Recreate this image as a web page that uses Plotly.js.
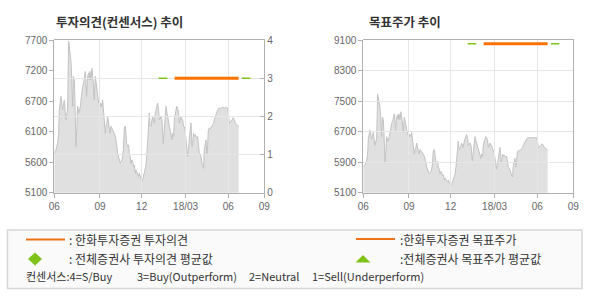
<!DOCTYPE html>
<html>
<head>
<meta charset="utf-8">
<script src="https://cdn.plot.ly/plotly-3.0.1.min.js"></script>
<style>
  html, body { margin: 0; padding: 0; background: #ffffff; }
  #chart { width: 590px; height: 300px; }
</style>
</head>
<body>
<div id="chart"></div>
<script>
// ---------------- data ----------------
// trading-session index (Jun 2017 .. Sep 2018) and close price
var session = [0,5,10,13,15,20,23,25,28,30,33,35,38,40,42,43,45,47,50,52,53,55,57,60,62,63,65,68,70,73,75,78,80,83,85,88,90,93,95,97,100,103,105,107,110,113,115,117,120,123,125,127,130,133,135,138,140,143,145,148,150,153,155,158,160,163,165,167,170,173,175,178,180,183,185,188,190,193,195,198,200,203,205,207,210,213,215,217,220,223,225,228,230,233,235,238,240,243,245,247,250,253,255,257,260,263,265,267,269,271,273,275,278,280,283,285,287,290,293,295,298,300,303,305,308,310,313,315,318,320,323,325,327,330,333,335,338,340,343,345,348,350,353,355,358,360,363,365,367,370,373,375,378,380,383,385,388,390,392,395,398,400,403,405,407,410,412,413,415,418,421,423,425,428,430,433,435,438,440,443,445,448,450,452,455,458,460,462,465,470,473,475,478,480,483,485,488,490,493,495,500,505,510,515,520,523,525,528,530,533,535,538,540,543,545,548,550,553];
var price = [5770,5830,5940,6110,6510,6740,6570,6510,6625,6680,6455,6340,6455,6510,7250,7680,7590,7480,7340,7080,6910,6570,7080,7020,6680,6400,5885,6230,6570,6455,6480,6570,6680,6740,6910,6970,7050,7165,6970,6740,7080,7140,7020,7165,7020,7220,7080,6970,6680,7080,6995,6910,6740,6625,6680,6570,6625,6570,6680,6510,6400,6110,6230,6285,6400,6285,6170,6110,6230,6200,6170,6140,6110,6055,6000,5885,5770,5715,5660,5600,5630,5660,5715,5830,6200,6230,6110,5940,5885,5915,5770,5715,5600,5660,5630,5545,5570,5430,5485,5460,5430,5375,5430,5400,5345,5290,5315,5375,5430,5460,5545,5570,5770,6000,6230,6455,6255,6230,6340,6400,6340,6285,6455,6510,6570,6625,6510,6340,6370,6400,6340,6110,5940,6170,6455,6570,6455,6400,6340,6285,6170,6110,6000,6110,6055,6340,6455,6510,6570,6540,6455,6285,6340,6400,6340,6340,6230,6200,6200,6000,5830,5715,5885,6000,6110,6285,6055,5885,5940,6110,6055,6085,6055,6030,6055,5885,5770,5745,5715,5600,5570,5515,5830,5940,6000,5770,5885,6170,6200,6200,6230,6255,6285,6340,6400,6455,6510,6510,6540,6540,6540,6555,6540,6555,6540,6425,6285,6310,6310,6340,6370,6370,6310,6285,6270,6255,6240,6230];

// Hanwha Investment & Securities opinion (3 = Buy) and target price
var houseSession = [361, 553];
var houseOpinion = [3, 3];
var houseTarget = [9000, 9000];
// all-broker consensus averages (short segments)
var consSession = [313, 339, null, 563, 588];
var consOpinion = [3, 3, null, 3, 3];
var consTarget = [9000, 9000, null, 9000, 9000];

// axis ticks
var monthTickVals = [0, 137, 262, 394, 522, 630];
var monthTickText = ['06', '09', '12', '18/03', '06', '09'];
var leftPriceText = ['5100', '5600', '6100', '6700', '7200', '7700'];
var leftPriceRange = [5100, 7700];
var opinionTicks = [0, 1, 2, 3, 4];
var targetTicks = [5100, 5900, 6700, 7500, 8300, 9100];

// ---------------- layout helpers ----------------
var W = 590, H = 300;
function px(x) { return x / W; }
function py(y) { return 1 - y / H; }

var domL = [px(54.3), px(264.3)];
var domR = [px(363.3), px(573.3)];
var domV = [py(192.7), py(40)];

var ORANGE = '#ff7200';
var GREEN = '#7fc31a';
var AXIS = '#b0b0b0';
var GRID = '#e6e6e6';
var TICKFONT = { family: 'Liberation Sans, Arial, sans-serif', size: 10, color: '#666666' };
var KFONT = 'Noto Sans CJK KR, sans-serif';

var leftTickVals = leftPriceText.map(function (t, i) {
  return leftPriceRange[0] + i * (leftPriceRange[1] - leftPriceRange[0]) / (leftPriceText.length - 1);
});

var traces = [
  { x: session, y: price, xaxis: 'x', yaxis: 'y', type: 'scatter', mode: 'lines',
    fill: 'tozeroy', fillcolor: '#e0e0e0', line: { color: '#c2c2c2', width: 1 }, hoverinfo: 'skip' },
  { x: houseSession, y: houseOpinion, xaxis: 'x2', yaxis: 'y2', type: 'scatter', mode: 'lines',
    line: { color: ORANGE, width: 3 } },
  { x: consSession, y: consOpinion, xaxis: 'x2', yaxis: 'y2', type: 'scatter', mode: 'lines',
    line: { color: GREEN, width: 1.5 }, connectgaps: false },
  { x: session, y: price, xaxis: 'x3', yaxis: 'y3', type: 'scatter', mode: 'lines',
    fill: 'tozeroy', fillcolor: '#e0e0e0', line: { color: '#c2c2c2', width: 1 }, hoverinfo: 'skip' },
  { x: houseSession, y: houseTarget, xaxis: 'x4', yaxis: 'y4', type: 'scatter', mode: 'lines',
    line: { color: ORANGE, width: 3 } },
  { x: consSession, y: consTarget, xaxis: 'x4', yaxis: 'y4', type: 'scatter', mode: 'lines',
    line: { color: GREEN, width: 1.5 }, connectgaps: false }
];

function baseX(dom, anchor) {
  return { domain: dom, anchor: anchor, range: [0, 630], tickmode: 'array',
    tickvals: monthTickVals, ticktext: monthTickText, zeroline: false, fixedrange: true };
}

var xa = baseX(domL, 'y');
Object.assign(xa, { showgrid: false, ticks: 'outside', ticklen: 4, tickcolor: AXIS,
  showline: true, linecolor: AXIS, tickfont: TICKFONT });
var xa2 = baseX(domL, 'y2');
Object.assign(xa2, { showgrid: true, gridcolor: GRID, ticks: '', showticklabels: false,
  showline: true, mirror: true, linecolor: AXIS });
var xa3 = baseX(domR, 'y3');
Object.assign(xa3, { showgrid: false, ticks: 'outside', ticklen: 4, tickcolor: AXIS,
  showline: true, linecolor: AXIS, tickfont: TICKFONT });
var xa4 = baseX(domR, 'y4');
Object.assign(xa4, { showgrid: true, gridcolor: GRID, ticks: '', showticklabels: false,
  showline: true, mirror: true, linecolor: AXIS });

var layout = {
  width: W, height: H,
  margin: { l: 0, r: 0, t: 0, b: 0 },
  paper_bgcolor: '#ffffff',
  plot_bgcolor: 'rgba(0,0,0,0)',
  showlegend: false,
  xaxis: xa, xaxis2: xa2, xaxis3: xa3, xaxis4: xa4,
  yaxis: { domain: domV, anchor: 'x', range: leftPriceRange, tickmode: 'array',
    tickvals: leftTickVals, ticktext: leftPriceText, showgrid: false, zeroline: false,
    ticks: 'outside', ticklen: 4, tickcolor: AXIS, showline: true, linecolor: AXIS,
    tickfont: TICKFONT, fixedrange: true },
  yaxis2: { domain: domV, anchor: 'x2', side: 'right', range: [0, 4], tickmode: 'array',
    tickvals: opinionTicks, showgrid: true, gridcolor: GRID, zeroline: false,
    ticks: 'inside', ticklen: 4, tickcolor: AXIS, showline: true, linecolor: AXIS,
    tickfont: TICKFONT, fixedrange: true },
  yaxis3: { domain: domV, anchor: 'x3', range: [5100, 9100], tickmode: 'array',
    tickvals: targetTicks, showgrid: false, zeroline: false,
    ticks: 'outside', ticklen: 4, tickcolor: AXIS, showline: true, linecolor: AXIS,
    tickfont: TICKFONT, fixedrange: true },
  yaxis4: { domain: domV, anchor: 'x4', side: 'right', range: [5100, 9100], tickmode: 'array',
    tickvals: targetTicks, showgrid: true, gridcolor: GRID, zeroline: false,
    ticks: '', showticklabels: false, showline: true, linecolor: AXIS, fixedrange: true },
  shapes: [
    // legend box
    { type: 'rect', xref: 'paper', yref: 'paper', x0: px(7.5), x1: px(582), y0: py(288.5), y1: py(230),
      line: { color: '#d6d6d6', width: 1.5 }, fillcolor: '#fafafa', layer: 'below' },
    // legend orange lines
    { type: 'line', xref: 'paper', yref: 'paper', x0: px(26), x1: px(65), y0: py(239.5), y1: py(239.5),
      line: { color: '#ef7214', width: 2 } },
    { type: 'line', xref: 'paper', yref: 'paper', x0: px(356), x1: px(395), y0: py(239), y1: py(239),
      line: { color: '#ef7214', width: 2 } },
    // green diamond
    { type: 'path', xref: 'paper', yref: 'paper', fillcolor: GREEN, line: { width: 0 },
      path: 'M ' + px(35) + ',' + py(252.5) + ' L ' + px(42) + ',' + py(259) + ' L ' + px(35) + ',' + py(265.5) +
            ' L ' + px(28) + ',' + py(259) + ' Z' },
    // green triangle
    { type: 'path', xref: 'paper', yref: 'paper', fillcolor: GREEN, line: { width: 0 },
      path: 'M ' + px(363) + ',' + py(255) + ' L ' + px(370.5) + ',' + py(262.5) + ' L ' + px(355.5) + ',' + py(262.5) + ' Z' }
  ],
  annotations: [
    { text: '<b>투자의견(컨센서스) 추이</b>', xref: 'paper', yref: 'paper', x: px(54), y: py(21),
      xanchor: 'left', yanchor: 'middle', showarrow: false, font: { family: KFONT, size: 12.5, color: '#333333' } },
    { text: '<b>목표주가 추이</b>', xref: 'paper', yref: 'paper', x: px(367), y: py(21),
      xanchor: 'left', yanchor: 'middle', showarrow: false, font: { family: KFONT, size: 12.5, color: '#333333' } },
    { text: ': 한화투자증권 투자의견', xref: 'paper', yref: 'paper', x: px(67), y: py(239.5),
      xanchor: 'left', yanchor: 'middle', showarrow: false, font: { family: KFONT, size: 12, color: '#333333' } },
    { text: ': 전체증권사 투자의견 평균값', xref: 'paper', yref: 'paper', x: px(67), y: py(258.5),
      xanchor: 'left', yanchor: 'middle', showarrow: false, font: { family: KFONT, size: 12, color: '#333333' } },
    { text: ':한화투자증권 목표주가', xref: 'paper', yref: 'paper', x: px(398), y: py(239.5),
      xanchor: 'left', yanchor: 'middle', showarrow: false, font: { family: KFONT, size: 12, color: '#333333' } },
    { text: ':전체증권사 목표주가 평균값', xref: 'paper', yref: 'paper', x: px(398), y: py(258.5),
      xanchor: 'left', yanchor: 'middle', showarrow: false, font: { family: KFONT, size: 12, color: '#333333' } },
    { text: '컨센서스:4=S/Buy', xref: 'paper', yref: 'paper', x: px(24), y: py(275.5),
      xanchor: 'left', yanchor: 'middle', showarrow: false, font: { family: KFONT, size: 11, color: '#333333' } },
    { text: '3=Buy(Outperform)', xref: 'paper', yref: 'paper', x: px(135), y: py(275.5),
      xanchor: 'left', yanchor: 'middle', showarrow: false, font: { family: KFONT, size: 11, color: '#333333' } },
    { text: '2=Neutral', xref: 'paper', yref: 'paper', x: px(247), y: py(275.5),
      xanchor: 'left', yanchor: 'middle', showarrow: false, font: { family: KFONT, size: 11, color: '#333333' } },
    { text: '1=Sell(Underperform)', xref: 'paper', yref: 'paper', x: px(310), y: py(275.5),
      xanchor: 'left', yanchor: 'middle', showarrow: false, font: { family: KFONT, size: 11, color: '#333333' } }
  ]
};

Plotly.newPlot('chart', traces, layout, { staticPlot: true, displayModeBar: false });
</script>
</body>
</html>
